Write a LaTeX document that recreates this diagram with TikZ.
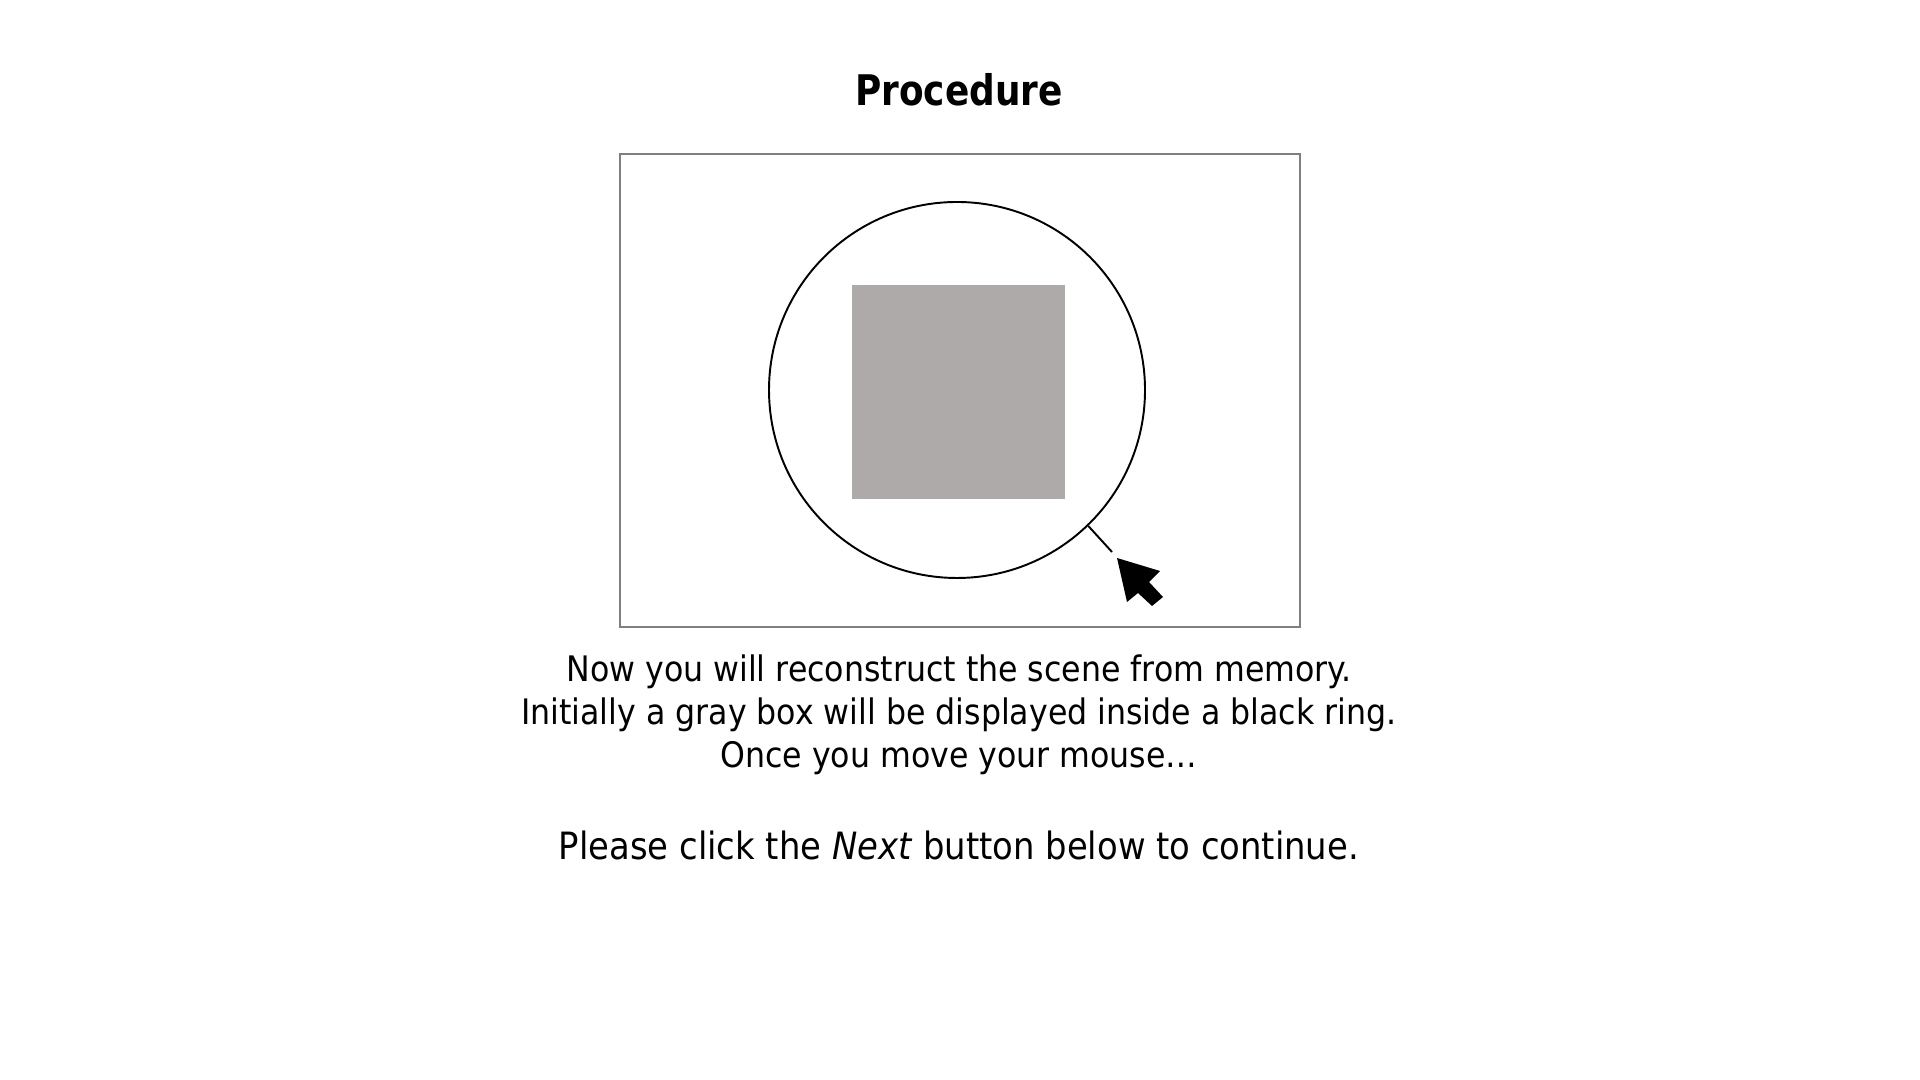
\documentclass[tikz,border=0pt]{standalone}
\usepackage{fontspec}
\setmainfont{DejaVu Sans Condensed}
\usepackage{xcolor}
\definecolor{framegray}{RGB}{127,127,127}
\definecolor{boxgray}{RGB}{174,170,170}
\usetikzlibrary{positioning}
\tikzset{
  bodytext/.style={font=\fontsize{10}{12.4}\selectfont, align=center, inner sep=0pt},
  clicktext/.style={font=\fontsize{10.7}{12.4}\selectfont, align=center, inner sep=0pt},
  titletext/.style={font=\fontsize{12}{14}\selectfont\bfseries, inner sep=0pt, xscale=0.945}
}

\begin{document}
\begin{tikzpicture}
      \useasboundingbox (0,0) rectangle (19.2,10.8);
      % Title
      \node[titletext] (title) at (9.59,9.90) {Procedure};
      % Scene frame
      \draw[framegray, line width=0.7pt] (6.20,4.53) rectangle (13.00,9.26);
      % Gray box
      \fill[boxgray] (8.52,5.81) rectangle (10.65,7.95);
      % Black ring
      \node[draw=black, line width=0.55pt, circle, minimum size=3.76cm, inner sep=0pt] (ring) at (9.57,6.90) {};
      % Ring tick
      \coordinate (tickend) at (11.12,5.28);
      \draw[black, line width=0.55pt] (ring.-46) -- (tickend);
      % Mouse cursor
      \fill[black] (11.17,5.22) -- (11.60,5.09) -- (11.49,4.98) -- (11.63,4.83)
                   -- (11.52,4.74) -- (11.38,4.87) -- (11.27,4.78) -- cycle;
      % Instructions
      \node[bodytext] (line1) at (9.59,4.08) {Now you will reconstruct the scene from memory.};
      \node[bodytext] (line2) at (9.59,3.65) {Initially a gray box will be displayed inside a black ring.};
      \node[bodytext] (line3) at (9.59,3.22) {Once you move your mouse…};
      \node[clicktext] (line4) at (9.59,2.35) {Please click the \textit{Next} button below to continue.};
    \end{tikzpicture}
\end{document}
